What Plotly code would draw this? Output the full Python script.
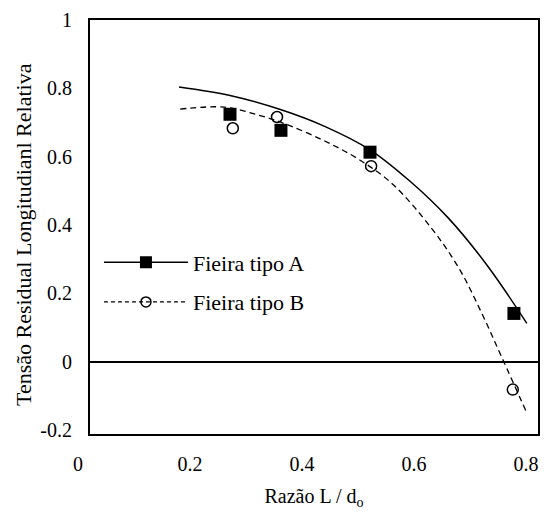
import plotly.graph_objects as go

# measured points
razao_a = [0.25, 0.341, 0.50, 0.757]
tensao_a = [0.724, 0.677, 0.613, 0.141]
razao_b = [0.255, 0.334, 0.502, 0.755]
tensao_b = [0.683, 0.716, 0.572, -0.082]

# trend curves
curva_a_x = [0.159, 0.25, 0.34, 0.42, 0.50, 0.57, 0.64, 0.71, 0.78]
curva_a_y = [0.804, 0.779, 0.738, 0.688, 0.620, 0.530, 0.420, 0.280, 0.112]
curva_b_x = [0.161, 0.24, 0.30, 0.35, 0.42, 0.48, 0.54, 0.61, 0.66, 0.70, 0.736, 0.780]
curva_b_y = [0.739, 0.745, 0.722, 0.695, 0.645, 0.592, 0.520, 0.390, 0.270, 0.140, 0.010, -0.150]

xticks = [0, 0.2, 0.4, 0.6, 0.8]
yticks = [-0.2, 0, 0.2, 0.4, 0.6, 0.8, 1]

fonte = 'Times New Roman, Liberation Serif, serif'

fig = go.Figure()
fig.add_trace(go.Scatter(x=curva_a_x, y=curva_a_y, mode='lines', line_shape='spline',
                         line=dict(color='black', width=1.5), showlegend=False))
fig.add_trace(go.Scatter(x=curva_b_x, y=curva_b_y, mode='lines', line_shape='spline',
                         line=dict(color='black', width=1.3, dash='6px,4px'), showlegend=False))
fig.add_trace(go.Scatter(x=razao_a, y=tensao_a, mode='markers',
                         marker=dict(symbol='square', size=13, color='black'), showlegend=False))
fig.add_trace(go.Scatter(x=razao_b, y=tensao_b, mode='markers',
                         marker=dict(symbol='circle-open', size=11, color='black', line=dict(width=1.5)),
                         showlegend=False))

# legend entries
fig.add_trace(go.Scatter(x=[None], y=[None], mode='lines+markers', name='Fieira tipo A', legendgroup='a',
                         line=dict(color='black', width=1.5),
                         marker=dict(symbol='square', size=12, color='black')))
fig.add_trace(go.Scatter(x=[None], y=[None], mode='lines+markers', name='Fieira tipo B', legendgroup='b',
                         line=dict(color='black', width=1.3, dash='4px,3px'),
                         marker=dict(symbol='circle-open', size=10, color='black', line=dict(width=1.5))))

# the page puts the figure 8px in from the top-left corner
fig.update_layout(
    width=547, height=508,
    margin=dict(l=82, r=17, t=12, b=82, autoexpand=False),
    paper_bgcolor='white', plot_bgcolor='white',
    font=dict(family=fonte, size=20, color='black'),
    legend=dict(x=0.02, y=0.465, xanchor='left', yanchor='top', bgcolor='rgba(0,0,0,0)',
                tracegroupgap=8, font=dict(size=22, family=fonte), itemwidth=84),
)
# y title sits a bit below the middle of the axis in the original
fig.add_annotation(text='Tensão Residual Longitudianl Relativa', textangle=-90,
                   xref='paper', yref='paper', x=-0.147, y=0.481,
                   xanchor='center', yanchor='middle', showarrow=False,
                   font=dict(size=22, family=fonte))
fig.update_xaxes(range=[0, 0.8], tickvals=xticks, ticktext=[str(t) for t in xticks],
                 showline=True, mirror=True, linecolor='black', linewidth=2,
                 showgrid=False, zeroline=False, ticks='', ticklabelstandoff=11, ticklabelshift=-12,
                 automargin=False,
                 tickfont=dict(size=20, family=fonte),
                 title=dict(text='Razão L / d<sub>o</sub>', font=dict(size=20, family=fonte), standoff=15))
fig.update_yaxes(range=[-0.212, 1.0], tickvals=yticks, ticktext=[str(t) for t in yticks],
                 showline=True, mirror=True, linecolor='black', linewidth=2,
                 showgrid=False, zeroline=True, zerolinecolor='black', zerolinewidth=1.5,
                 ticks='', ticklabelstandoff=12, automargin=False,
                 tickfont=dict(size=20, family=fonte))

fig.write_html("out.html")
